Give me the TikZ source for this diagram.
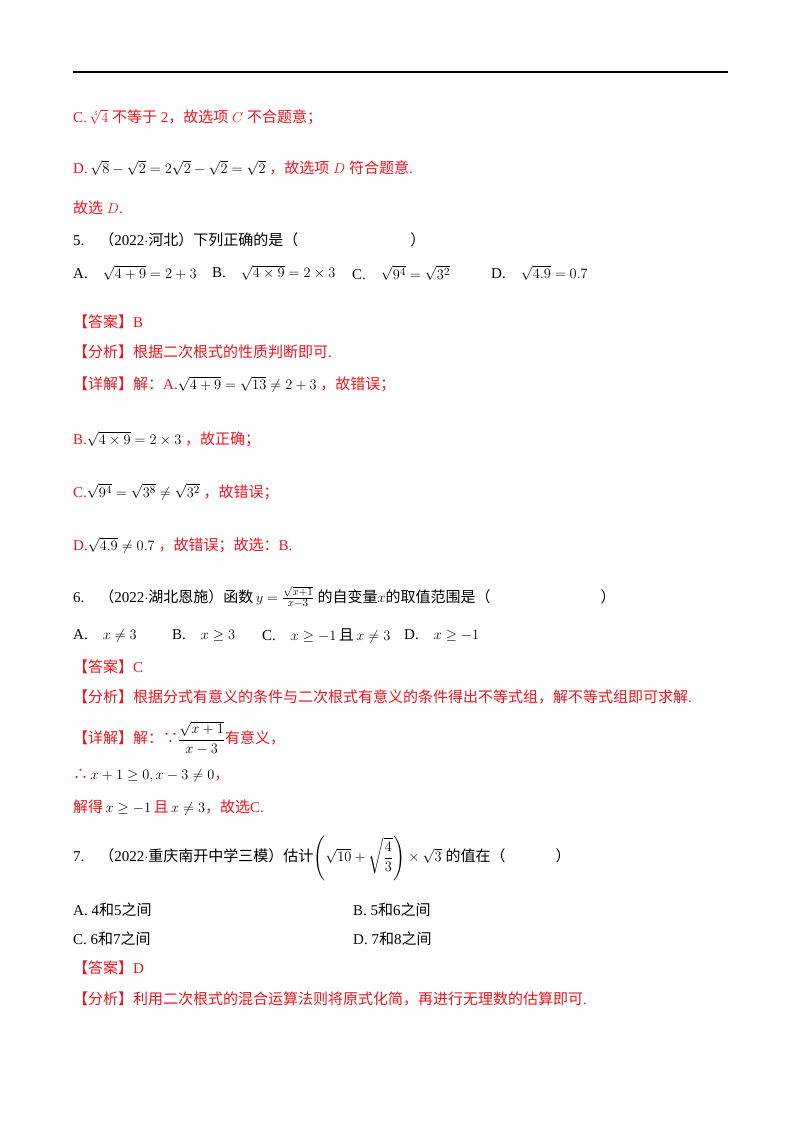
\documentclass[tikz,border=0pt]{standalone}
\usepackage{amsmath,amssymb}
\usepackage{fontspec}
\setmainfont{Liberation Serif}
\newfontfamily\cjk{Noto Sans CJK SC}
\newcommand\zh[1]{{\cjk #1}}
\definecolor{ans}{RGB}{240,20,30}
\begin{document}
\begin{tikzpicture}[x=1pt,y=-1pt,every node/.style={anchor=west,inner sep=0pt,font=\fontsize{15}{18}\selectfont},
 red/.style={text=ans}]
\useasboundingbox (0,0) rectangle (800,1132);
\draw[line width=1.6pt] (73,72) -- (728,72);
% C/D
\node[red] (l1) at (73,117) {C.\,$\sqrt[3]{4}$ \zh{不等于} 2\zh{，故选项} $C$ \zh{不合题意；}};
\node[red] (l2) at (73,168) {D.\,\textcolor{black}{$\sqrt{8}-\sqrt{2}=2\sqrt{2}-\sqrt{2}=\sqrt{2}$}\ \zh{，故选项} $D$ \zh{符合题意}.};
\node[red] (l3) at (73,208) {\zh{故选} $D$.};
% Q5
\node (q5) at (73,240) {5.\quad\zh{（}2022$\cdot$\zh{河北）下列正确的是（}\hspace{112pt}\zh{）}};
\node (a5) at (73,273) {A.\quad $\sqrt{4+9}=2+3$};
\node (b5) at (212,273) {B.\quad $\sqrt{4\times9}=2\times3$};
\node (c5) at (352,273) {C.\quad $\sqrt{9^4}=\sqrt{3^2}$};
\node (d5) at (491,273) {D.\quad $\sqrt{4.9}=0.7$};
\node[red] (k5) at (73,322) {\zh{【答案】}B};
\node[red] (f5) at (73,352) {\zh{【分析】根据二次根式的性质判断即可}.};
\node[red] (x5) at (73,384) {\zh{【详解】解：}A.\textcolor{black}{$\sqrt{4+9}=\sqrt{13}\neq2+3$}\ \zh{，故错误；}};
\node[red] (x5b) at (73,439) {B.\textcolor{black}{$\sqrt{4\times9}=2\times3$}\ \zh{，故正确；}};
\node[red] (x5c) at (73,492) {C.\textcolor{black}{$\sqrt{9^4}=\sqrt{3^8}\neq\sqrt{3^2}$}\ \zh{，故错误；}};
\node[red] (x5d) at (73,545) {D.\textcolor{black}{$\sqrt{4.9}\neq0.7$}\ \zh{，故错误；故选：}B.};
% Q6
\node (q6) at (73,597) {6.\quad\zh{（}2022$\cdot$\zh{湖北恩施）函数}$\,y=\frac{\sqrt{x+1}}{x-3}$ \zh{的自变量}$x$\zh{的取值范围是（}\hspace{110pt}\zh{）}};
\node (a6) at (73,636) {A.\quad $x\neq3$};
\node (b6) at (172,636) {B.\quad $x\geq3$};
\node (c6) at (262,636) {C.\quad $x\geq-1$\,\zh{且}\,$x\neq3$};
\node (d6) at (404,636) {D.\quad $x\geq-1$};
\node[red] (k6) at (73,667) {\zh{【答案】}C};
\node[red] (f6) at (73,697) {\zh{【分析】根据分式有意义的条件与二次根式有意义的条件得出不等式组，解不等式组即可求解}.};
\node[red] (x6) at (73,738) {\zh{【详解】解：∵}\textcolor{black}{$\dfrac{\sqrt{x+1}}{x-3}$}\zh{有意义，}};
\node[red] (x6b) at (73,776) {\zh{∴}\,\textcolor{black}{$x+1\geq0,x-3\neq0$}\zh{，}};
\node[red] (x6c) at (73,808) {\zh{解得}\,\textcolor{black}{$x\geq-1$}\,\zh{且}\,\textcolor{black}{$x\neq3$}\zh{，故选}C.};
% Q7
\node (q7) at (73,858) {7.\quad\zh{（}2022$\cdot$\zh{重庆南开中学三模）估计}$\left(\sqrt{10}+\sqrt{\dfrac{4}{3}}\right)\times\sqrt{3}$ \zh{的值在（}\hspace{50pt}\zh{）}};
\node (a7) at (73,910) {A.\ 4\zh{和}5\zh{之间}};
\node (b7) at (353,910) {B.\ 5\zh{和}6\zh{之间}};
\node (c7) at (73,939) {C.\ 6\zh{和}7\zh{之间}};
\node (d7) at (353,939) {D.\ 7\zh{和}8\zh{之间}};
\node[red] (k7) at (73,968) {\zh{【答案】}D};
\node[red] (f7) at (73,999) {\zh{【分析】利用二次根式的混合运算法则将原式化简，再进行无理数的估算即可}.};
\end{tikzpicture}
\end{document}
